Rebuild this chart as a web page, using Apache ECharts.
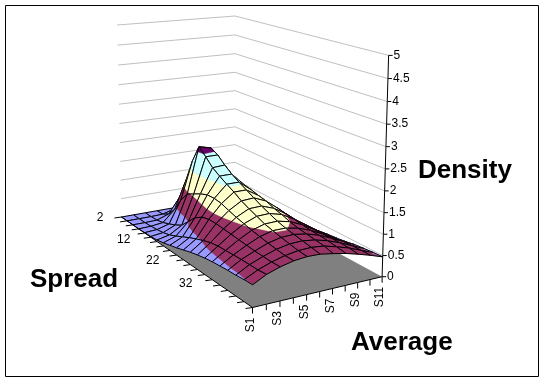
<!DOCTYPE html>
<html>
<head>
<meta charset="utf-8">
<style>
  html, body { margin: 0; padding: 0; background: #fff; }
  #chart { width: 545px; height: 383px; }
</style>
<script src="https://cdn.jsdelivr.net/npm/echarts@6/dist/echarts.min.js"></script>
</head>
<body>
<div id="chart"></div>
<script>
// labels
const averageLabels = ["S1", "S2", "S3", "S4", "S5", "S6", "S7", "S8", "S9", "S10", "S11"];
const spreadLabels = [2, 4, 6, 8, 10, 12, 14, 16, 18, 20, 22, 24, 26, 28, 30, 32, 34, 36, 38, 40];
const densityTicks = [0, 0.5, 1, 1.5, 2, 2.5, 3, 3.5, 4, 4.5, 5];
const bandColors = ["#9999FF", "#993366", "#FFFFCC", "#CCFFFF", "#660066"];

// density, one row per spread, one column per average
const density = [
  [0, 0, 0, 0, 0, 0, 0, 0, 0, 0, 0],
  [0, 0, 0, .01, .10, .10, .01, 0, 0, 0, 0],
  [0, 0, .01, .12, .55, .66, .19, .02, 0, 0, 0],
  [0, .01, .05, .35, 1.10, 1.30, .59, .12, .01, 0, 0],
  [.01, .03, .12, .70, 1.68, 1.85, .98, .31, .06, .01, 0],
  [.02, .06, .20, .95, 2.12, 2.05, 1.2, .47, .12, .02, 0],
  [.04, .11, .30, 1.05, 1.95, 1.95, 1.27, .61, .21, .05, .01],
  [.08, .19, .50, 1.15, 1.76, 1.78, 1.34, .79, .36, .13, .03],
  [.13, .28, .70, 1.22, 1.64, 1.64, 1.33, .88, .47, .21, .07],
  [.18, .37, .82, 1.23, 1.53, 1.53, 1.29, .93, .56, .29, .13],
  [.24, .45, .87, 1.20, 1.43, 1.43, 1.24, .94, .63, .36, .18],
  [.30, .52, .87, 1.13, 1.31, 1.33, 1.20, .96, .69, .44, .25],
  [.35, .58, .85, 1.07, 1.22, 1.23, 1.12, .93, .69, .47, .29],
  [.39, .61, .83, 1.02, 1.14, 1.15, 1.07, .90, .70, .50, .33],
  [.42, .62, .81, .97, 1.06, 1.07, 1.00, .87, .69, .51, .35],
  [.44, .63, .79, .93, 1.01, 1.01, .95, .84, .69, .53, .38],
  [.46, .64, .77, .89, .96, .97, .92, .83, .70, .56, .42],
  [.47, .64, .76, .86, .92, .93, .89, .81, .70, .57, .44],
  [.49, .64, .75, .83, .88, .89, .86, .78, .69, .57, .46],
  [.50, .66, .76, .83, .86, .85, .80, .74, .66, .57, .47]
];

// perspective of the box: floor corners in page pixels and height of the walls there
const cornerLeft = [121.5, 217], cornerBack = [235, 197], cornerNear = [252.5, 307.5];
const wallLeft = 192, wallBack = 181, wallNear = 238;
const zMax = 5, zPersp = 0.05, vanishY = 5000;

const dL = 1 / wallLeft, dB = 1 / wallBack, dN = 1 / wallNear;

// a = average index, r = spread index, z = density -> page pixel
function project(a, r, z) {
  const u = a / (averageLabels.length - 1), w = r / (spreadLabels.length - 1);
  const d = dL + u * (dB - dL) + w * (dN - dL);
  const x = (dL * cornerLeft[0] + u * (dB * cornerBack[0] - dL * cornerLeft[0]) + w * (dN * cornerNear[0] - dL * cornerLeft[0])) / d;
  const y = (dL * cornerLeft[1] + u * (dB * cornerBack[1] - dL * cornerLeft[1]) + w * (dN * cornerNear[1] - dL * cornerLeft[1])) / d;
  const t = z / zMax;
  const lift = (t * (1 - zPersp) / (1 - zPersp * t)) / d;
  return [x + (x - cornerBack[0]) * lift / vanishY, y - lift];
}

// keep the part of a polygon on one side of a density level
function clipZ(poly, level, keepAbove) {
  const out = [];
  for (let i = 0; i < poly.length; i++) {
    const p = poly[i], q = poly[(i + 1) % poly.length];
    const pIn = keepAbove ? p[2] >= level : p[2] <= level;
    const qIn = keepAbove ? q[2] >= level : q[2] <= level;
    if (pIn) out.push(p);
    if (pIn !== qIn) {
      const k = (level - p[2]) / (q[2] - p[2]);
      out.push([p[0] + k * (q[0] - p[0]), p[1] + k * (q[1] - p[1]), level]);
    }
  }
  return out;
}

function toPixels(api, poly) {
  return poly.map(p => api.coord(project(p[0], p[1], p[2])));
}

function renderCell(params, api) {
  const a = api.value(0), r = api.value(1);
  const poly = [
    [a, r, density[r][a]],
    [a + 1, r, density[r][a + 1]],
    [a + 1, r + 1, density[r + 1][a + 1]],
    [a, r + 1, density[r + 1][a]]
  ];
  const children = [];
  bandColors.forEach((color, k) => {
    let part = clipZ(poly, k * 0.5, true);
    if (part.length) part = clipZ(part, (k + 1) * 0.5, false);
    if (part.length > 2) {
      children.push({
        type: "polygon",
        shape: { points: toPixels(api, part) },
        style: { fill: color, stroke: color, lineWidth: 0.5 }
      });
    }
  });
  children.push({
    type: "polygon",
    shape: { points: toPixels(api, poly) },
    style: { fill: "none", stroke: "#000", lineWidth: 1 }
  });
  return { type: "group", children };
}

function renderWall(params, api) {
  const z = api.value(0);
  const last = averageLabels.length - 1, lastR = spreadLabels.length - 1;
  return {
    type: "polyline",
    shape: { points: [
      api.coord(project(0, 0, z)),
      api.coord(project(last, 0, z)),
      api.coord(project(last, lastR, z))
    ] },
    style: { fill: "none", stroke: "#c0c0c0", lineWidth: 1 }
  };
}

function renderFloor(params, api) {
  const last = averageLabels.length - 1, lastR = spreadLabels.length - 1;
  return {
    type: "polygon",
    shape: { points: [
      api.coord(project(0, 0, 0)),
      api.coord(project(last, 0, 0)),
      api.coord(project(last, lastR, 0)),
      api.coord(project(0, lastR, 0))
    ] },
    style: { fill: "#808080" }
  };
}

function line(from, to) {
  return {
    type: "line",
    shape: { x1: from[0], y1: from[1], x2: to[0], y2: to[1] },
    style: { stroke: "#000", lineWidth: 1 }
  };
}

const tickFont = '12px "Liberation Sans", Arial, sans-serif';

function renderDensityTick(params, api) {
  const z = api.value(0), i = params.dataIndex;
  const last = averageLabels.length - 1, lastR = spreadLabels.length - 1;
  const p = api.coord(project(last, lastR, z));
  const kids = [line(p, [p[0] + 4, p[1]])];
  if (i < densityTicks.length - 1) kids.push(line(p, api.coord(project(last, lastR, densityTicks[i + 1]))));
  kids.push({
    type: "text",
    x: p[0] + 5, y: p[1],
    style: { text: String(z), font: tickFont, fill: "#000", align: "left", verticalAlign: "middle" }
  });
  return { type: "group", children: kids };
}

function renderAverageTick(params, api) {
  const a = api.value(0);
  const lastR = spreadLabels.length - 1;
  const p = api.coord(project(a, lastR, 0));
  const kids = [line(p, [p[0], p[1] + 6])];
  if (a < averageLabels.length - 1) kids.push(line(p, api.coord(project(a + 1, lastR, 0))));
  if (a % 2 === 0) {
    kids.push({
      type: "text",
      x: p[0] - 2, y: p[1] + 10,
      rotation: Math.PI / 2,
      style: { text: averageLabels[a], font: tickFont, fill: "#000", align: "right", verticalAlign: "middle" }
    });
  }
  return { type: "group", children: kids };
}

function renderSpreadTick(params, api) {
  const r = api.value(0);
  const p = api.coord(project(0, r, 0));
  const kids = [line(p, [p[0] - 7, p[1] + 1])];
  if (r < spreadLabels.length - 1) kids.push(line(p, api.coord(project(0, r + 1, 0))));
  if (r % 5 === 0) {
    kids.push({
      type: "text",
      x: p[0] - 18 - r * 0.7 + (r ? 1 : 0), y: p[1] + (r ? 4 : 1) - r * 0.35,
      style: { text: String(spreadLabels[r]), font: tickFont, fill: "#000", align: "right", verticalAlign: "middle" }
    });
  }
  return { type: "group", children: kids };
}

// back to front: far average columns first, small spreads first
const cells = [];
for (let a = averageLabels.length - 2; a >= 0; a--) {
  for (let r = 0; r < spreadLabels.length - 1; r++) cells.push([a, r]);
}

function customSeries(data, renderItem, z) {
  return { type: "custom", data, renderItem, z, silent: true, progressive: 0, animation: false, clip: false };
}

const titleStyle = { fontFamily: '"Liberation Sans", Arial, sans-serif', fontWeight: "bold", fontSize: 26, color: "#000" };

const option = {
  animation: false,
  backgroundColor: "#fff",
  grid: { left: 0, right: 0, top: 0, bottom: 0 },
  xAxis: { type: "value", min: 0, max: 545, show: false },
  yAxis: { type: "value", min: 0, max: 383, inverse: true, show: false },
  title: [
    { text: "Density", left: 418, top: 158, padding: 0, textStyle: titleStyle },
    { text: "Spread", left: 30, top: 267, padding: 0, textStyle: titleStyle },
    { text: "Average", left: 351, top: 330, padding: 0, textStyle: titleStyle }
  ],
  graphic: [{
    type: "rect",
    shape: { x: 5.5, y: 5.5, width: 533, height: 371 },
    style: { fill: "none", stroke: "#000", lineWidth: 1 },
    silent: true
  }],
  series: [
    customSeries(densityTicks.slice(1).map(z => [z]), renderWall, 1),
    customSeries([[0]], renderFloor, 2),
    customSeries(cells, renderCell, 3),
    customSeries(densityTicks.map(z => [z]), renderDensityTick, 4),
    customSeries(averageLabels.map((s, a) => [a]), renderAverageTick, 4),
    customSeries(spreadLabels.map((s, r) => [r]), renderSpreadTick, 4)
  ]
};

const chart = echarts.init(document.getElementById("chart"));
chart.setOption(option);
</script>
</body>
</html>
